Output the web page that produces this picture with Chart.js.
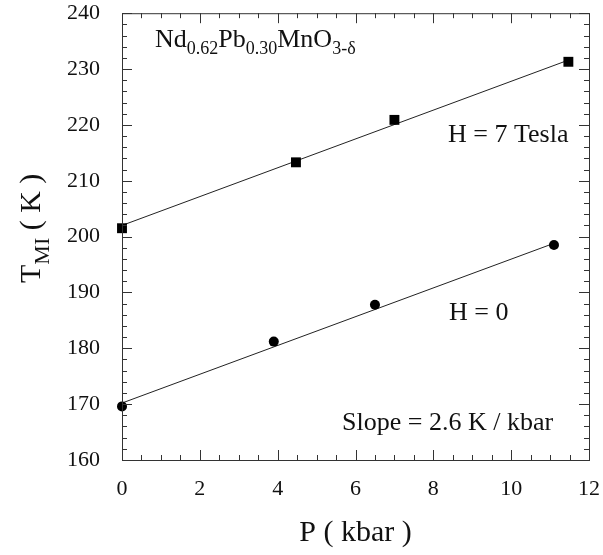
<!DOCTYPE html>
<html>
<head>
<meta charset="utf-8">
<script src="https://cdn.jsdelivr.net/npm/chart.js@4/dist/chart.umd.min.js"></script>
<style>
  html, body { margin: 0; padding: 0; background: #fff; }
  canvas { display: block; }
</style>
</head>
<body>
<canvas id="chart" width="603" height="555"></canvas>
<script>
// measured points, H = 7 Tesla (squares) and H = 0 (circles)
const p7 = [0, 4.47, 7.0, 11.47];
const t7 = [201.5, 213.3, 220.9, 231.3];
const p0 = [0, 3.9, 6.5, 11.1];
const t0 = [169.6, 181.2, 187.8, 198.5];

// straight-line fits (slope ~2.6 K/kbar)
const fit7P = [0, 11.47];
const fit7T = [202.0, 231.6];
const fit0P = [0, 11.1];
const fit0T = [170.2, 198.8];

const xTicks = [0, 2, 4, 6, 8, 10, 12];
const yTicks = [160, 170, 180, 190, 200, 210, 220, 230, 240];

const FONT = "'Liberation Serif', 'Times New Roman', serif";

function toXY(xs, ys) {
  return xs.map((x, i) => ({ x: x, y: ys[i] }));
}

// frame + inward ticks on all four sides
const framePlugin = {
  id: "frame",
  afterDraw(chart) {
    const ctx = chart.ctx;
    const a = chart.chartArea;
    const xs = chart.scales.x;
    const ys = chart.scales.y;
    ctx.save();
    ctx.strokeStyle = "#333";
    ctx.lineWidth = 1;
    ctx.strokeRect(a.left + 0.5, a.top + 0.5, a.right - a.left, a.bottom - a.top);

    ctx.beginPath();
    for (let v = 0; v <= 12.001; v += 0.5) {
      const px = Math.round(xs.getPixelForValue(v)) + 0.5;
      const len = Math.abs(v % 2) < 0.001 ? 10 : 5;
      ctx.moveTo(px, a.bottom); ctx.lineTo(px, a.bottom - len);
      ctx.moveTo(px, a.top); ctx.lineTo(px, a.top + len);
    }
    for (let v = 160; v <= 240.001; v += 2) {
      const py = Math.round(ys.getPixelForValue(v)) + 0.5;
      const len = Math.abs(v % 10) < 0.001 ? 10 : 5;
      ctx.moveTo(a.left, py); ctx.lineTo(a.left + len, py);
      ctx.moveTo(a.right, py); ctx.lineTo(a.right - len, py);
    }
    ctx.stroke();
    ctx.restore();
  }
};

// text labels with subscripts
function drawRuns(ctx, x, y, runs) {
  let cx = x;
  runs.forEach(r => {
    ctx.font = r.size + "px " + FONT;
    ctx.fillText(r.t, cx, y + (r.dy || 0));
    cx += ctx.measureText(r.t).width;
  });
}

const textPlugin = {
  id: "labels",
  afterDraw(chart) {
    const ctx = chart.ctx;
    ctx.save();
    ctx.fillStyle = "#111";
    ctx.textBaseline = "alphabetic";
    ctx.textAlign = "left";

    drawRuns(ctx, 155, 47, [
      { t: "Nd", size: 26 },
      { t: "0.62", size: 18, dy: 7 },
      { t: "Pb", size: 26 },
      { t: "0.30", size: 18, dy: 7 },
      { t: "MnO", size: 26 },
      { t: "3-\u03b4", size: 18, dy: 7 }
    ]);

    drawRuns(ctx, 448, 142, [{ t: "H = 7 Tesla", size: 26 }]);
    drawRuns(ctx, 449, 320, [{ t: "H = 0", size: 26 }]);
    drawRuns(ctx, 342, 430, [{ t: "Slope = 2.6 K / kbar", size: 26 }]);

    // y axis title, rotated
    ctx.translate(40, 283);
    ctx.rotate(-Math.PI / 2);
    drawRuns(ctx, 0, 0, [
      { t: "T", size: 30 },
      { t: "MI", size: 22, dy: 9 },
      { t: " ( K )", size: 30 }
    ]);
    ctx.restore();
  }
};

new Chart(document.getElementById("chart"), {
  type: "scatter",
  data: {
    datasets: [
      {
        label: "H = 7 Tesla",
        data: toXY(p7, t7),
        pointStyle: "rect",
        pointRadius: 7,
        backgroundColor: "#000",
        borderColor: "#000",
        borderWidth: 0,
        clip: false
      },
      {
        label: "H = 0",
        data: toXY(p0, t0),
        pointStyle: "circle",
        pointRadius: 5,
        backgroundColor: "#000",
        borderColor: "#000",
        borderWidth: 0,
        clip: false
      },
      {
        label: "fit 7T",
        data: toXY(fit7P, fit7T),
        showLine: true,
        pointRadius: 0,
        borderColor: "#222",
        borderWidth: 1
      },
      {
        label: "fit 0",
        data: toXY(fit0P, fit0T),
        showLine: true,
        pointRadius: 0,
        borderColor: "#222",
        borderWidth: 1
      }
    ]
  },
  options: {
    responsive: false,
    animation: false,
    layout: { padding: { top: 11, right: 14, left: 0, bottom: 0 } },
    plugins: {
      legend: { display: false },
      tooltip: { enabled: false }
    },
    scales: {
      x: {
        type: "linear",
        min: 0,
        max: 12,
        afterBuildTicks: s => { s.ticks = xTicks.map(v => ({ value: v })); },
        afterFit: s => { s.height = 95; },
        // invisible tick marks just to push labels away from the axis
        grid: { display: true, drawOnChartArea: false, drawTicks: true, tickLength: 16, tickColor: "rgba(0,0,0,0)" },
        border: { display: false },
        ticks: {
          padding: 0,
          color: "#111",
          font: { family: FONT, size: 22 }
        },
        title: {
          display: true,
          text: "P ( kbar )",
          color: "#111",
          font: { family: FONT, size: 30 },
          padding: { top: 0, bottom: 4 }
        }
      },
      y: {
        type: "linear",
        min: 160,
        max: 240,
        afterBuildTicks: s => { s.ticks = yTicks.map(v => ({ value: v })); },
        afterFit: s => { s.width = 122; },
        grid: { display: true, drawOnChartArea: false, drawTicks: true, tickLength: 22, tickColor: "rgba(0,0,0,0)" },
        border: { display: false },
        ticks: {
          padding: 0,
          color: "#111",
          font: { family: FONT, size: 22 }
        }
      }
    }
  },
  plugins: [framePlugin, textPlugin]
});
</script>
</body>
</html>
